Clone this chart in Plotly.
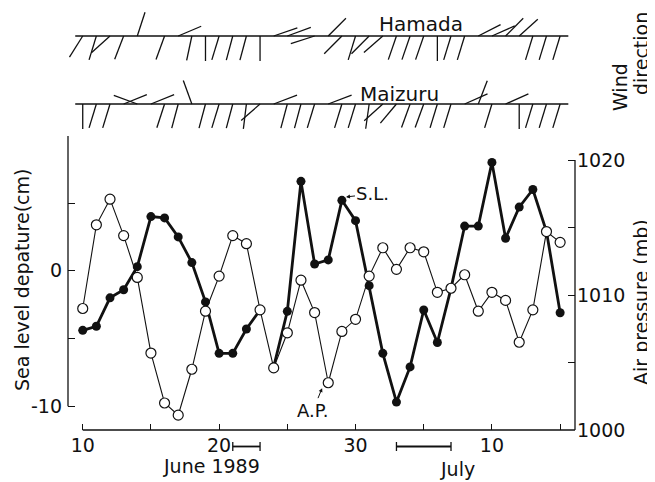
import math
import plotly.graph_objects as go

# ---------------- data ----------------
days = list(range(10, 46))          # day count from 1 June 1989 (31 = 1 July)
sea_level = [-4.4, -4.1, -2.0, -1.4, 0.3, 4.0, 3.9, 2.5, 0.6, -2.3,
             -6.1, -6.1, -4.3, -2.9, -7.1, -3.0, 6.6, 0.5, 0.8, 5.2,
             3.7, -1.1, -6.1, -9.7, -7.1, -2.9, -5.3, -1.3, 3.3, 3.3,
             8.0, 2.4, 4.7, 6.0, 2.9, -3.1]
air_pressure = [1009.0, 1015.2, 1017.1, 1014.4, 1011.3, 1005.7, 1002.0, 1001.1, 1004.5, 1008.8,
                1011.4, 1014.4, 1013.8, 1008.9, 1004.6, 1007.2, 1011.1, 1008.7, 1003.5, 1007.3,
                1008.2, 1011.4, 1013.5, 1011.9, 1013.5, 1013.2, 1010.2, 1010.5, 1011.5, 1008.8,
                1010.2, 1009.6, 1006.5, 1008.9, 1014.7, 1013.9]
sl_break_day = 24   # S.L. line is drawn in two pieces (23 -> 24 not joined)

# wind direction sticks (screen angle in degrees, counter-clockwise from east)
hamada_days = [10, 11, 12, 13, 14, 16, 17, 18, 19, 20, 21, 22, 23, 24, 25, 27, 28, 29,
               30, 31, 32, 33, 34, 35, 36, 37, 38, 39, 40, 41, 42, 43, 44, 45]
hamada_angle = [-122, -107, -138, -111, 72, -110, 23, -102, -90, -107, -105, -105, -90, 19, 20, -162, 45, -135,
                -107, -135, -139, -109, -109, -109, -90, -107, -107, 27, 24, 45, 42, -107, -107, -107]
maizuru_days = list(range(10, 46))
maizuru_angle = [-90, -107, -107, 22, 160, 22, -108, -105, 110, -105, -107, -105, -97, -139, 21, -105, -105, -107,
                 21, -107, -107, -98, -138, -130, -110, -110, -107, -107, 24, 69, -107, 24, -90, -107, -107, -107]

periods = [(21, 23), (33, 37)]

x_tickvals = [10, 15, 20, 25, 30, 35, 40, 45]
x_ticktext = ["10", "", "20", "", "30", "", "10", ""]
sl_tickvals = [-10, -5, 0, 5, 10]
sl_ticktext = ["-10", "", "0", "", "10"]
ap_tickvals = [1000, 1005, 1010, 1015, 1020]
ap_ticktext = ["1000", "", "1010", "", "1020"]

# ---------------- layout constants ----------------
# the page body has an 8 px margin, so the figure is 8 px smaller and all
# reference positions below are given in window pixels
OFF = 8
WIN_W, WIN_H = 655, 482
W, H = WIN_W - OFF, WIN_H - OFF
PLOT_L, PLOT_R, PLOT_T, PLOT_B = 68, 575, 8, 430     # window pixels
ML, MR, MT, MB = PLOT_L - OFF, WIN_W - PLOT_R, PLOT_T - OFF, WIN_H - PLOT_B
PW = PLOT_R - PLOT_L
PH = PLOT_B - PLOT_T
XMIN, XMAX = 8.92, 46.09
PX_PER_DAY = PW / (XMAX - XMIN)
MAIN_TOP = (PLOT_B - 136) / PH
WIND_BOTTOM_PX = 132
WIND_BOT = (PLOT_B - WIND_BOTTOM_PX) / PH
HAMADA_Y, MAIZURU_Y = -36, -104
STICK = 25
FONT = "DejaVu Sans"
BLACK = "#111111"


def px(xp, yp):
    return (xp - PLOT_L) / PW, (PLOT_B - yp) / PH


fig = go.Figure()

# sea level (thick, filled)
cut = days.index(sl_break_day)
for a, b in [(0, cut), (cut, len(days))]:
    fig.add_trace(go.Scatter(
        x=days[a:b], y=sea_level[a:b], mode="lines+markers",
        line=dict(color=BLACK, width=2.8),
        marker=dict(color=BLACK, size=9, line=dict(width=0)),
        yaxis="y", xaxis="x", showlegend=False, hoverinfo="skip"))

# air pressure (thin, open)
fig.add_trace(go.Scatter(
    x=days, y=air_pressure, mode="lines+markers",
    line=dict(color=BLACK, width=1.1),
    marker=dict(color="white", size=10, line=dict(color=BLACK, width=1.2)),
    yaxis="y2", xaxis="x", showlegend=False, hoverinfo="skip"))

# wind direction sticks
for base, dl, al in [(HAMADA_Y, hamada_days, hamada_angle), (MAIZURU_Y, maizuru_days, maizuru_angle)]:
    xs, ys = [], []
    for d, ang in zip(dl, al):
        r = math.radians(ang)
        xs += [d, d + STICK * math.cos(r) / PX_PER_DAY, None]
        ys += [base, base + STICK * math.sin(r), None]
    xs += [days[0] - 0.55, days[-1] + 0.6]
    ys += [base, base]
    fig.add_trace(go.Scatter(x=xs, y=ys, mode="lines", line=dict(color=BLACK, width=1.3),
                             xaxis="x2", yaxis="y3", showlegend=False, hoverinfo="skip"))

shapes = []
# axis lines
shapes.append(dict(type="line", xref="x domain", yref="y", x0=0, x1=0,
                   y0=sl_tickvals[0], y1=sl_tickvals[-1], line=dict(color=BLACK, width=1.3)))
shapes.append(dict(type="line", xref="x domain", yref="y2", x0=1, x1=1,
                   y0=ap_tickvals[0], y1=ap_tickvals[-1], line=dict(color=BLACK, width=1.3)))
shapes.append(dict(type="line", xref="x", yref="paper", x0=x_tickvals[0], x1=XMAX,
                   y0=0, y1=0, line=dict(color=BLACK, width=1.3)))
# period bars
bar_y = px(0, 446.5)[1]
cap = 4.5 / PH
for p0, p1 in periods:
    shapes.append(dict(type="line", xref="x", yref="paper", x0=p0, x1=p1, y0=bar_y, y1=bar_y,
                       line=dict(color=BLACK, width=1.8)))
    for p in (p0, p1):
        shapes.append(dict(type="line", xref="x", yref="paper", x0=p, x1=p,
                           y0=bar_y - cap, y1=bar_y + cap, line=dict(color=BLACK, width=1.3)))

annotations = []


def text(t, xp, yp, size=18, angle=0):
    x, y = px(xp, yp)
    annotations.append(dict(text=t, x=x, y=y, xref="paper", yref="paper", showarrow=False,
                            textangle=angle, font=dict(family=FONT, size=size, color=BLACK),
                            xanchor="center", yanchor="middle"))


text("Sea level depature(cm)", 22, 280, 19, -90)
text("Air pressure (mb)", 641, 302, 19, -90)
text("Wind", 620, 87, 19, -90)
text("direction", 641, 54, 19, -90)
text("Hamada", 421, 24, 20)
text("Maizuru", 399, 94, 20)
text("June 1989", 211, 466, 19)
text("July", 457, 469, 19)

# S.L. and A.P. labels with small arrows
i29 = days.index(29)
annotations.append(dict(text="S.L.", x=days[i29] + 0.3, y=sea_level[i29] + 0.25, xref="x", yref="y",
                        showarrow=True, arrowhead=2, arrowsize=0.8, arrowwidth=1, arrowcolor=BLACK,
                        ax=27, ay=-3, font=dict(family=FONT, size=18, color=BLACK)))
i28 = days.index(28)
annotations.append(dict(text="A.P.", x=days[i28] - 0.45, y=air_pressure[i28] - 0.4, xref="x", yref="y2",
                        showarrow=True, arrowhead=2, arrowsize=0.8, arrowwidth=1, arrowcolor=BLACK,
                        ax=-9, ay=22, font=dict(family=FONT, size=18, color=BLACK)))

tickfont = dict(family=FONT, size=19, color=BLACK)
fig.update_layout(
    width=W, height=H, paper_bgcolor="white", plot_bgcolor="white",
    margin=dict(l=ML, r=MR, t=MT, b=MB, autoexpand=False),
    xaxis=dict(range=[XMIN, XMAX], domain=[0, 1], anchor="y", showgrid=False, zeroline=False,
               showline=False, ticks="inside", ticklen=6, tickwidth=1.2, tickcolor=BLACK,
               tickvals=x_tickvals, ticktext=x_ticktext, tickfont=tickfont, ticklabelstandoff=2),
    xaxis2=dict(range=[XMIN, XMAX], domain=[0, 1], anchor="y3", visible=False, matches="x"),
    yaxis=dict(range=[-11.76, 9.95], domain=[0, MAIN_TOP], anchor="x", showgrid=False, zeroline=False,
               showline=False, ticks="inside", ticklen=7, tickwidth=1.2, tickcolor=BLACK,
               tickvals=sl_tickvals, ticktext=sl_ticktext, tickfont=tickfont, ticklabelstandoff=5),
    yaxis2=dict(range=[1000, 1021.78], overlaying="y", side="right", anchor="x", showgrid=False,
                zeroline=False, showline=False, ticks="inside", ticklen=7, tickwidth=1.2, tickcolor=BLACK,
                tickvals=ap_tickvals, ticktext=ap_ticktext, tickfont=tickfont, ticklabelstandoff=1),
    # wind panel y values are negative window pixels
    yaxis3=dict(range=[-WIND_BOTTOM_PX, -PLOT_T], domain=[WIND_BOT, 1], anchor="x2", visible=False),
    shapes=shapes, annotations=annotations,
)

fig.write_html("out.html")
